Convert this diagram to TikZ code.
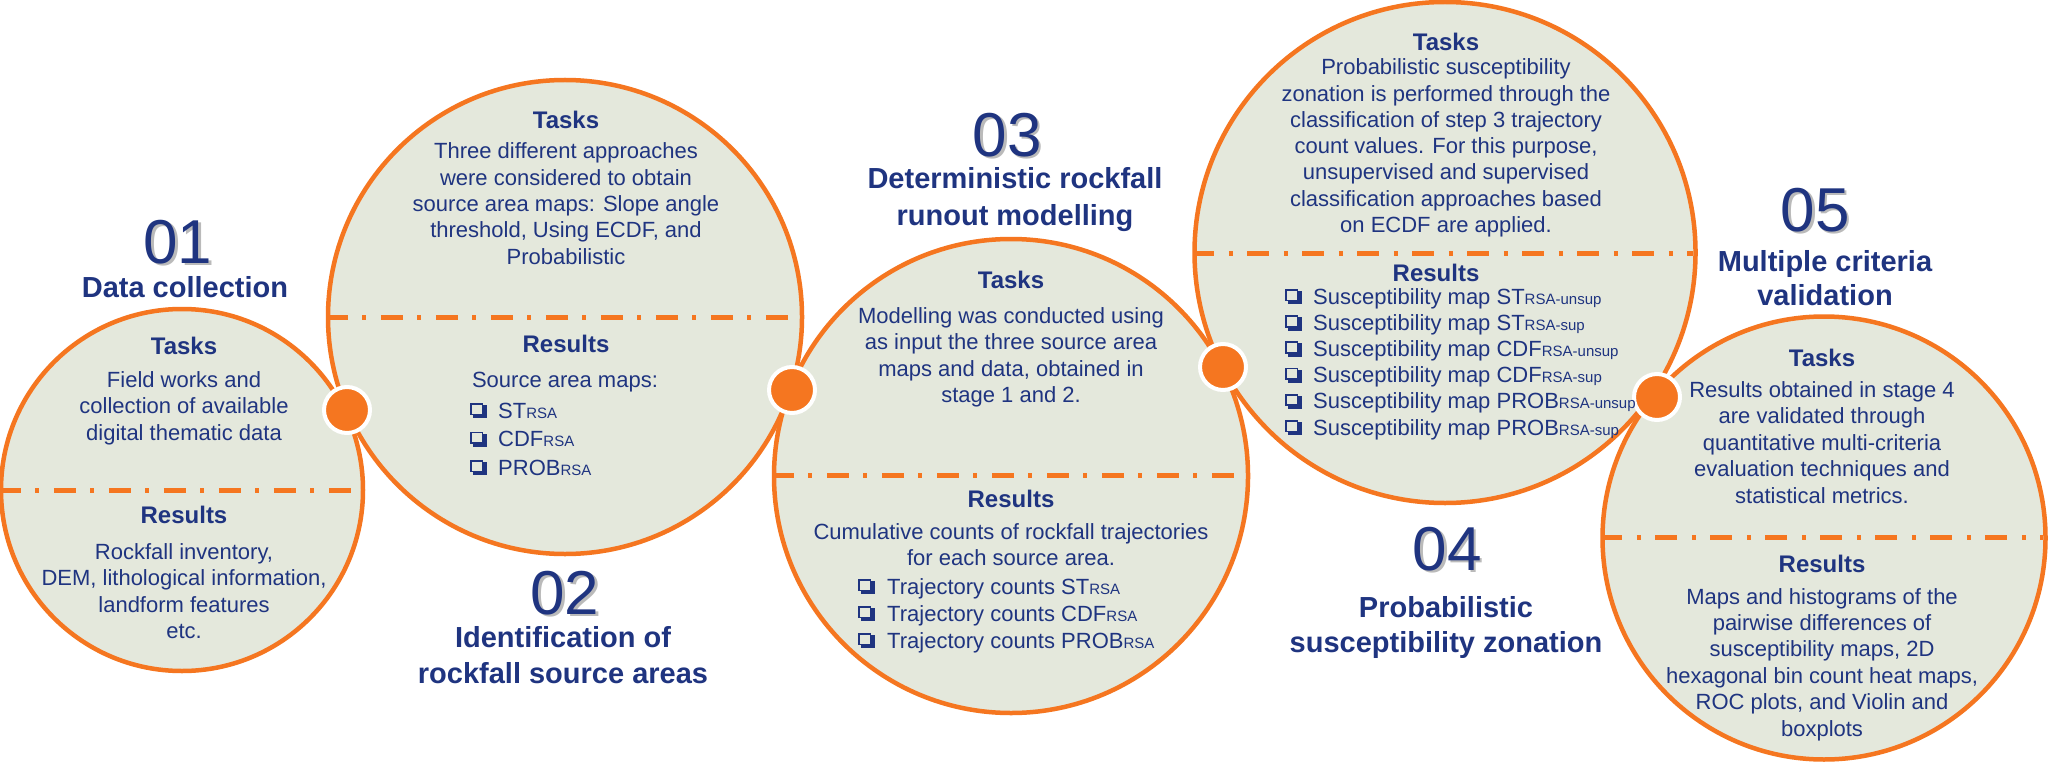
\documentclass[tikz,border=0pt]{standalone}
\usepackage{fontspec}
\setmainfont{Liberation Sans}
\definecolor{navy}{RGB}{31,52,128}
\definecolor{orng}{RGB}{245,118,32}
\definecolor{fillg}{RGB}{228,232,220}
\newcommand\rsa[1]{{\fontsize{15}{15}\selectfont #1}}
\begin{document}
\begin{tikzpicture}[x=1pt,y=-1pt,
  body/.style={font=\fontsize{22}{26.5}\selectfont, text=navy, inner sep=0pt, anchor=base},
  head/.style={font=\bfseries\fontsize{24}{28}\selectfont, text=navy, inner sep=0pt, anchor=base},
  ttl/.style={font=\bfseries\fontsize{29}{36}\selectfont, text=navy, inner sep=0pt, anchor=base},
  num/.style={font=\fontsize{62}{62}\selectfont, text=navy, inner sep=0pt, anchor=base},
  numsh/.style={font=\fontsize{62}{62}\selectfont, text=black!60, opacity=0.45, inner sep=0pt, anchor=base},
  stage/.style={circle, fill=fillg, draw=orng, line width=4.5pt, inner sep=0pt},
  sep/.style={draw=orng, line width=5pt, dash pattern=on 22pt off 14.5pt on 4pt off 14.5pt},
  dot/.style={circle, fill=orng, draw=white, line width=4pt, minimum size=46pt, inner sep=0pt},
  item/.style={body, anchor=base west},
  cbox/.pic={
    \draw[navy, line width=1.8pt] (0.9,-14.1) rectangle (12.5,-3.5);
    \fill[navy] (2.5,-4) rectangle (16.5,0.3);
    \fill[navy] (12.3,-13) rectangle (16.5,0.3);
  }
]
\useasboundingbox (0,0) rectangle (2049,762);
\fill[white] (0,0) rectangle (2049,762);

% stage circles
\node[stage, minimum size=362pt] (s1) at (182,490) {};
\node[stage, minimum size=474pt] (s2) at (565,317) {};
\node[stage, minimum size=474pt] (s3) at (1011,476) {};
\node[stage, minimum size=501pt] (s4) at (1445,252.5) {};
\node[stage, minimum size=443pt] (s5) at (1824,538) {};

% separators
\begin{scope}\clip (s1.center) circle (179pt); \draw[sep] (s1.west |- 0,490) -- (s1.east |- 0,490); \end{scope}
\begin{scope}\clip (s2.center) circle (235pt); \draw[sep] (s2.west |- 0,317) -- (s2.east |- 0,317); \end{scope}
\begin{scope}\clip (s3.center) circle (235pt); \draw[sep] (s3.west |- 0,475) -- (s3.east |- 0,475); \end{scope}
\begin{scope}\clip (s4.center) circle (248pt); \draw[sep] (s4.west |- 0,253) -- (s4.east |- 0,253); \end{scope}
\begin{scope}\clip (s5.center) circle (219pt); \draw[sep] (s5.west |- 0,537) -- (s5.east |- 0,537); \end{scope}

% junction dots
\node[dot] (d12) at (347,410) {};
\node[dot] (d23) at (792,390) {};
\node[dot] (d34) at (1223,367) {};
\node[dot] (d45) at (1657,397) {};

% stage headings
\node[numsh] (n1s) at (180.5,265.5) {01};
\node[num] (n1) at (178,263.5) {01};
\node[ttl] (h1) at (185,297) {Data collection};

\node[numsh] (n2s) at (567.5,616.5) {02};
\node[num] (n2) at (565,614.5) {02};
\node[ttl] (h2a) at (563,647) {Identification of};
\node[ttl] (h2b) at (563,683) {rockfall source areas};

\node[numsh] (n3s) at (1009.5,158.5) {03};
\node[num] (n3) at (1007,156.5) {03};
\node[ttl] (h3a) at (1015,189) {Deterministic rockfall};
\node[ttl] (h3b) at (1015,225) {runout modelling};

\node[numsh] (n4s) at (1449.5,572.5) {04};
\node[num] (n4) at (1447,570.5) {04};
\node[ttl] (h4a) at (1446,617) {Probabilistic};
\node[ttl] (h4b) at (1446,652) {susceptibility zonation};

\node[numsh] (n5s) at (1817.5,233.5) {05};
\node[num] (n5) at (1815,231.5) {05};
\node[ttl] (h5a) at (1825,271) {Multiple criteria};
\node[ttl] (h5b) at (1825,305) {validation};

% circle 1
\node[head] (t1) at (184,354) {Tasks};
\foreach \t [count=\i from 0] in {Field works and, collection of available, digital thematic data}
  \node[body] (t1l\i) at (184,387+26.5*\i) {\t};
\node[head] (r1) at (184,523) {Results};
\foreach \t [count=\i from 0] in {{Rockfall inventory,}, {DEM, lithological information,}, landform features, etc.}
  \node[body] (r1l\i) at (184,559+26.5*\i) {\t};

% circle 2
\node[head] (t2) at (566,129) {Tasks};
\foreach \t [count=\i from 0] in {Three different approaches, were considered to obtain, source area maps: Slope angle, {threshold, Using ECDF, and}, Probabilistic}
  \node[body] (t2l\i) at (566,159+26.3*\i) {\t};
\node[head] (r2) at (566,352) {Results};
\node[body] (r2l0) at (565,387) {Source area maps:};
\foreach \t [count=\i from 0] in {ST\rsa{RSA}, CDF\rsa{RSA}, PROB\rsa{RSA}}{
  \pic at (470,418+28.5*\i) {cbox};
  \node[item] (r2i\i) at (498,418+28.5*\i) {\t};
}

% circle 3
\node[head] (t3) at (1011,288) {Tasks};
\foreach \t [count=\i from 0] in {Modelling was conducted using, as input the three source area, {maps and data, obtained in}, stage 1 and 2.}
  \node[body] (t3l\i) at (1011,323+26.5*\i) {\t};
\node[head] (r3) at (1011,507) {Results};
\node[body] (r3l0) at (1011,539) {Cumulative counts of rockfall trajectories};
\node[body] (r3l1) at (1011,565) {for each source area.};
\foreach \t [count=\i from 0] in {Trajectory counts ST\rsa{RSA}, Trajectory counts CDF\rsa{RSA}, Trajectory counts PROB\rsa{RSA}}{
  \pic at (858,594+27*\i) {cbox};
  \node[item] (r3i\i) at (887,594+27*\i) {\t};
}

% circle 4
\node[head] (t4) at (1446,51) {Tasks};
\foreach \t [count=\i from 0] in {Probabilistic susceptibility, zonation is performed through the, classification of step 3 trajectory, {count values. For this purpose,}, unsupervised and supervised, classification approaches based, on ECDF are applied.}
  \node[body] (t4l\i) at (1446,75+26.2*\i) {\t};
\node[head] (r4) at (1436,281) {Results};
\foreach \t [count=\i from 0] in {Susceptibility map ST\rsa{RSA-unsup}, Susceptibility map ST\rsa{RSA-sup}, Susceptibility map CDF\rsa{RSA-unsup}, Susceptibility map CDF\rsa{RSA-sup}, Susceptibility map PROB\rsa{RSA-unsup}, Susceptibility map PROB\rsa{RSA-sup}}{
  \pic at (1285,304+26.2*\i) {cbox};
  \node[item] (r4i\i) at (1313,304+26.2*\i) {\t};
}

% circle 5
\node[head] (t5) at (1822,366) {Tasks};
\foreach \t [count=\i from 0] in {Results obtained in stage 4, are validated through, quantitative multi-criteria, evaluation techniques and, statistical metrics.}
  \node[body] (t5l\i) at (1822,397+26.6*\i) {\t};
\node[head] (r5) at (1822,572) {Results};
\foreach \t [count=\i from 0] in {Maps and histograms of the, pairwise differences of, {susceptibility maps, 2D}, {hexagonal bin count heat maps,}, {ROC plots, and Violin and}, boxplots}
  \node[body] (r5l\i) at (1822,604+26.4*\i) {\t};
\end{tikzpicture}
\end{document}
